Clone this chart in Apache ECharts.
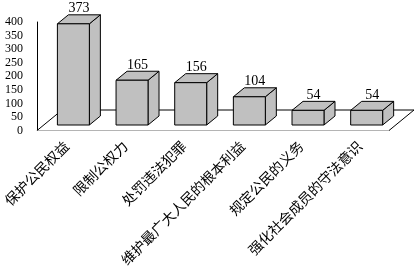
<!DOCTYPE html>
<html>
<head>
<meta charset="utf-8">
<script src="https://cdn.jsdelivr.net/npm/echarts@6/dist/echarts.min.js"></script>
<style>
html,body{margin:0;padding:0;background:#fff;}
#c{width:417px;height:270px;}
</style>
</head>
<body>
<div id="c"></div>
<script>
const categories = ['保护公民权益','限制公权力','处罚违法犯罪','维护最广大人民的根本利益','规定公民的义务','强化社会成员的守法意识'];
const values = [373,165,156,104,54,54];
const yMin = 0, yMax = 400, yStep = 50;

const BAR_RATIO = 0.545;
const FRONT_DX = 7, FRONT_DY = -5.5;   // bar front face offset from floor front edge
const DEPTH_DX = 11, DEPTH_DY = -9;    // bar depth
const FLOOR_DX = 25, FLOOR_DY = -20.5; // floor depth

const chart = echarts.init(document.getElementById('c'), null, {renderer:'canvas'});

function renderFloor(params, api){
  const cs = params.coordSys;
  const yb = cs.y + cs.height, xl = cs.x, xr = cs.x + cs.width;
  const st = {stroke:'#000', lineWidth:1, fill:null};
  return {type:'group', children:[
    {type:'line', shape:{x1:xl, y1:yb, x2:xl+FLOOR_DX, y2:yb+FLOOR_DY}, style:st},
    {type:'line', shape:{x1:xl+FLOOR_DX, y1:yb+FLOOR_DY, x2:xr+FLOOR_DX, y2:yb+FLOOR_DY}, style:st},
    {type:'line', shape:{x1:xr, y1:yb, x2:xr+FLOOR_DX, y2:yb+FLOOR_DY}, style:st}
  ]};
}

function renderBar(params, api){
  const idx = api.value(0), v = api.value(1);
  const base = api.coord([idx, 0]);
  const top = api.coord([idx, v]);
  const bw = api.size([1,0])[0] * BAR_RATIO;
  const x0 = base[0] - bw/2 + FRONT_DX, x1 = x0 + bw;
  const yb = base[1] + FRONT_DY, yt = top[1] + FRONT_DY;
  const st = {fill:'#c0c0c0', stroke:'#000', lineWidth:1};
  return {type:'group', children:[
    {type:'polygon', shape:{points:[[x1,yt],[x1+DEPTH_DX,yt+DEPTH_DY],[x1+DEPTH_DX,yb+DEPTH_DY],[x1,yb]]}, style:st},
    {type:'polygon', shape:{points:[[x0,yt],[x1,yt],[x1+DEPTH_DX,yt+DEPTH_DY],[x0+DEPTH_DX,yt+DEPTH_DY]]}, style:st},
    {type:'rect', shape:{x:x0, y:yt, width:bw, height:yb-yt}, style:st},
    {type:'text', style:{text:String(v), x:x0+bw/2+DEPTH_DX/2, y:yt+DEPTH_DY-6, align:'center', verticalAlign:'middle',
      fill:'#000', font:'14px "Liberation Serif"'}}
  ]};
}

chart.setOption({
  animation:false,
  grid:{left:36, right:28, top:22, bottom:139.5},
  xAxis:{type:'category', data:categories,
    axisLine:{lineStyle:{color:'#b4b4b4', width:1}},
    axisTick:{show:false},
    axisLabel:{rotate:45, interval:0, margin:13, color:'#000', fontSize:14, fontFamily:'Noto Sans CJK SC'}
  },
  yAxis:{type:'value', min:yMin, max:yMax, interval:yStep,
    axisLine:{show:true, lineStyle:{color:'#000', width:1}},
    axisTick:{show:false},
    splitLine:{show:false},
    axisLabel:{margin:14, color:'#000', fontSize:12, fontFamily:'Liberation Serif'}
  },
  series:[
    {type:'custom', renderItem:renderFloor, data:[[0,0]], clip:false, silent:true, z:1},
    {type:'custom', renderItem:renderBar, data:values.map((v,i)=>[i,v]), encode:{x:0,y:1}, clip:false, silent:true, z:2}
  ]
});
</script>
</body>
</html>
